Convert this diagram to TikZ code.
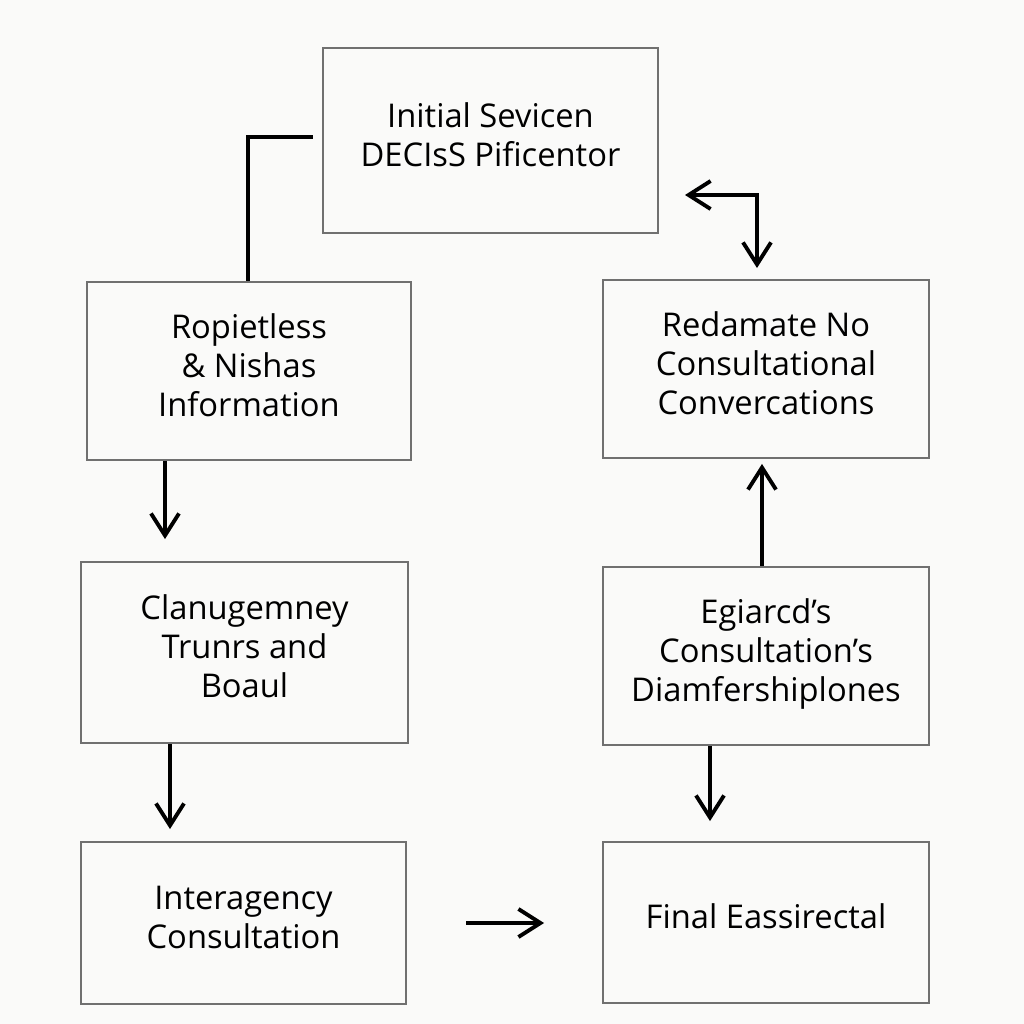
\documentclass[tikz,border=0pt]{standalone}
\usepackage{fontspec}
\setmainfont{Open Sans}
\usepackage{tikz}
\usepackage{xcolor}
\usetikzlibrary{arrows.meta}
\definecolor{paper}{HTML}{FAFAF9}
\definecolor{boxline}{HTML}{707070}
\tikzstyle{arr}=[->,>={Straight Barb[length=0.22cm,width=0.28cm]},line width=1.1pt]
\tikzstyle{lnk}=[line width=1.1pt]
\tikzstyle{stepbox}=[
  draw=boxline,line width=0.6pt,rectangle,align=center,
  inner sep=0pt,font=\fontsize{9.3}{11.1}\selectfont,
  execute at end node={\rule[-3.5pt]{0pt}{0pt}}]
\newcommand{\boxnode}[4]{% name, centre, width, height
  \node[stepbox,minimum width=#3*0.01cm,minimum height=#4*0.01cm] (#1) at (#2)}

\begin{document}
\begin{tikzpicture}[x=0.01cm,y=-0.01cm]
  \fill[paper] (0,0) rectangle (1024,1024);
  \useasboundingbox (0,0) rectangle (1024,1024);

  \boxnode{init}{490.5,140.5}{335}{185} {Initial Sevicen\\DECIsS Pificentor};
  \boxnode{ropi}{249,371}{324}{178} {Ropietless\\\& Nishas\\Information};
  \boxnode{clan}{244.5,652.5}{327}{181} {Clanugemney\\Trunrs and\\Boaul};
  \boxnode{inter}{243.5,923}{325}{162} {Interagency\\Consultation};
  \boxnode{reda}{766,369}{326}{178} {Redamate No\\Consultational\\Convercations};
  \boxnode{egia}{766,656}{326}{178} {Egiarcd's\\Consultation's\\Diamfershiplones};
  \boxnode{final}{766,922.5}{326}{161} {Final Eassirectal};

  \coordinate (ropitop) at (248,137);
  \coordinate (ropiend) at (313,137);
  \coordinate (loopA) at (685,195);
  \coordinate (loopB) at (757,195);
  \coordinate (loopC) at (757,268);

  \draw[lnk] (ropi.north -| ropitop) -- (ropitop) -- (ropiend);
  \draw[arr,<->] (loopA) -- (loopB) -- (loopC);

  \draw[arr] (ropi.south -| 165,0) -- ++(0,78);
  \draw[arr] (clan.south -| 170,0) -- ++(0,85);
  \draw[arr] ([xshift=59*0.01cm]inter.east) -- ++(78,0);
  \draw[arr] (egia.north -| 762,0) -- ++(0,-102);
  \draw[arr] (egia.south -| 710,0) -- ++(0,75);
\end{tikzpicture}
\end{document}
